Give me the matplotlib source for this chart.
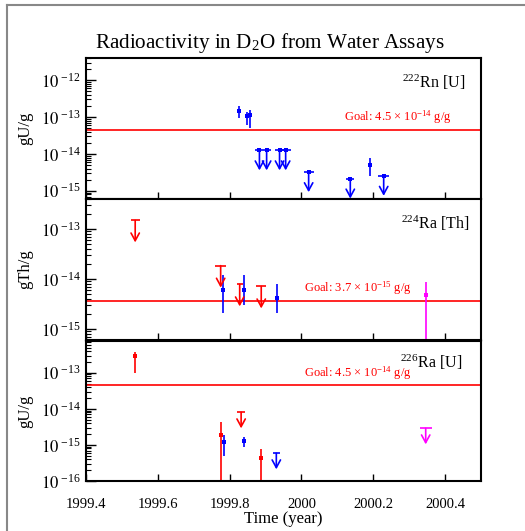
import matplotlib
matplotlib.use("Agg")
import matplotlib.pyplot as plt
import matplotlib.ticker as mticker
import matplotlib.transforms as mtransforms
from matplotlib.lines import Line2D
import numpy as np

plt.rcParams['font.family'] = ['Liberation Serif', 'DejaVu Serif']
plt.rcParams['mathtext.fontset'] = 'stix'

# x axis
xlim = (1999.4, 2000.5)
xticks = [1999.4, 1999.6, 1999.8, 2000.0, 2000.2, 2000.4]
xticklabels = ["1999.4", "1999.6", "1999.8", "2000", "2000.2", "2000.4"]

# 222Rn [U] panel
rn_meas_t = [1999.826, 1999.847, 1999.858, 2000.191]
rn_meas_v = [1.42e-13, 1.06e-13, 1.16e-13, 5.1e-15]
rn_meas_hi = [1.95e-13, 1.36e-13, 1.58e-13, 7.6e-15]
rn_meas_lo = [9.6e-14, 6.0e-14, 5.2e-14, 2.55e-15]
rn_lim_t = [1999.883, 1999.903, 1999.939, 1999.956, 2000.020, 2000.136, 2000.229]
rn_lim_v = [1.25e-14, 1.25e-14, 1.25e-14, 1.25e-14, 3.2e-15, 2.15e-15, 2.55e-15]
rn_lim_dt = [0.011, 0.011, 0.014, 0.014, 0.014, 0.011, 0.015]
rn_goal = 4.5e-14
rn_decades = [1e-15, 1e-14, 1e-13, 1e-12]

# 224Ra [Th] panel
ra4_red_lim_t = [1999.537, 1999.775, 1999.828, 1999.888]
ra4_red_lim_v = [1.49e-13, 1.85e-14, 7.8e-15, 7.1e-15]
ra4_red_lim_dt = [0.013, 0.015, 0.008, 0.014]
ra4_blue_t = [1999.782, 1999.840, 1999.932]
ra4_blue_v = [6.1e-15, 6.1e-15, 4.17e-15]
ra4_blue_hi = [1.18e-14, 1.2e-14, 7.9e-15]
ra4_blue_lo = [2.05e-15, 3.06e-15, 2.05e-15]
ra4_mag_t = [2000.346]
ra4_mag_v = [4.8e-15]
ra4_mag_hi = [8.7e-15]
ra4_mag_lo = [1e-16]
ra4_goal = 3.7e-15
ra4_decades = [1e-15, 1e-14, 1e-13]

# 226Ra [U] panel
ra6_red_t = [1999.537, 1999.777, 1999.888]
ra6_red_v = [2.96e-13, 1.88e-15, 4.4e-16]
ra6_red_hi = [3.74e-13, 4.2e-15, 7.85e-16]
ra6_red_lo = [1e-13, 1e-17, 1e-17]
ra6_blue_t = [1999.783, 1999.840]
ra6_blue_v = [1.18e-15, 1.3e-15]
ra6_blue_hi = [1.88e-15, 1.69e-15]
ra6_blue_lo = [5e-16, 8.9e-16]
ra6_red_lim_t = [1999.832]
ra6_red_lim_v = [8e-15]
ra6_red_lim_dt = [0.011]
ra6_blue_lim_t = [1999.930]
ra6_blue_lim_v = [5.85e-16]
ra6_blue_lim_dt = [0.009]
ra6_mag_lim_t = [2000.346]
ra6_mag_lim_v = [2.88e-15]
ra6_mag_lim_dt = [0.017]
ra6_goal = 4.5e-14
ra6_decades = [1e-16, 1e-15, 1e-14, 1e-13]

BLUE = "#0000ff"
RED = "#ff0000"
MAG = "#ff00ff"

W, H = 525, 531
fig = plt.figure(figsize=(W / 100, H / 100), dpi=100)

def px_box(top, bottom, left=86, right=481):
    return [left / W, 1 - bottom / H, (right - left) / W, (bottom - top) / H]

ax1 = fig.add_axes(px_box(58, 199))
ax2 = fig.add_axes(px_box(199, 340))
ax3 = fig.add_axes(px_box(341, 481))


def decade_label(v):
    e = int(round(np.log10(v)))
    return r"$10^{\ \mathregular{-%d}}$" % (-e)


def style_axis(ax, ylim, decades, label, show_x):
    ax.set_yscale("log")
    ax.set_xlim(*xlim)
    ax.set_ylim(*ylim)
    ax.set_xticks(xticks)
    if show_x:
        ax.set_xticklabels(xticklabels, fontsize=10.5)
    else:
        ax.tick_params(axis="x", labelbottom=False)
    ax.set_yticks(decades)
    ax.set_yticklabels([decade_label(d) for d in decades])
    ax.yaxis.set_minor_locator(mticker.LogLocator(base=10, subs=np.arange(2, 10), numticks=20))
    ax.yaxis.set_minor_formatter(mticker.NullFormatter())
    ax.tick_params(axis="x", which="both", direction="in", length=5, width=1,
                   top=False, pad=12)
    ax.tick_params(axis="y", which="major", direction="in", length=7, width=1,
                   right=False, labelsize=12, pad=4)
    ax.tick_params(axis="y", which="minor", direction="in", length=3.5, width=0.8,
                   right=False)
    for s in ax.spines.values():
        s.set_linewidth(1.5)
    ax.set_ylabel(label, fontsize=12)
    ax.yaxis.set_label_coords(-0.134, 0.5)


def meas(ax, t, v, hi, lo, color, ms=3):
    v = np.array(v)
    yerr = [v - np.array(lo), np.array(hi) - v]
    ax.errorbar(t, v, yerr=yerr, fmt="s", color=color, ms=ms, lw=1.2,
                capsize=0, mew=0)


def limits(ax, t, v, dt, color, arrow_px, marker=False):
    ax.errorbar(t, v, xerr=dt, fmt="s" if marker else "none", color=color,
                ms=3, lw=1.2, capsize=0, mew=0)
    off = mtransforms.ScaledTranslation(0, -arrow_px / 100, fig.dpi_scale_trans)
    for ti, vi in zip(t, v):
        ax.annotate("", xy=(ti, vi), xycoords=ax.transData + off,
                    xytext=(ti, vi), textcoords="data",
                    arrowprops=dict(arrowstyle="->,head_length=0.55,head_width=0.3",
                                    color=color, lw=1.2, shrinkA=0, shrinkB=0,
                                    mutation_scale=10))


def goal(ax, val, text, xfrac):
    ax.axhline(val, color=RED, lw=1.2)
    ax.annotate(text, xy=(xfrac, val), xycoords=("axes fraction", "data"),
                xytext=(0, 2), textcoords="offset points", color=RED,
                fontsize=9, ha="left", va="bottom")


# top panel
style_axis(ax1, (6e-16, 4e-12), rn_decades, "gU/g", False)
goal(ax1, rn_goal, "Goal: 4.5 \u00d7 10$^{\\mathregular{-14}}$ g/g", 0.653)
meas(ax1, rn_meas_t, rn_meas_v, rn_meas_hi, rn_meas_lo, BLUE)
limits(ax1, rn_lim_t, rn_lim_v, rn_lim_dt, BLUE, 20, marker=True)
ax1.text(0.96, 0.83, r"$^{\mathregular{222}}$Rn [U]", transform=ax1.transAxes,
         ha="right", va="center", fontsize=11.5)

# middle panel
style_axis(ax2, (6e-16, 4e-13), ra4_decades, "gTh/g", False)
goal(ax2, ra4_goal, "Goal: 3.7 \u00d7 10$^{\\mathregular{-15}}$ g/g", 0.552)
limits(ax2, ra4_red_lim_t, ra4_red_lim_v, ra4_red_lim_dt, RED, 22)
meas(ax2, ra4_blue_t, ra4_blue_v, ra4_blue_hi, ra4_blue_lo, BLUE)
meas(ax2, ra4_mag_t, ra4_mag_v, ra4_mag_hi, ra4_mag_lo, MAG, ms=2.5)
ax2.text(0.972, 0.83, r"$^{\mathregular{224}}$Ra [Th]", transform=ax2.transAxes,
         ha="right", va="center", fontsize=11.5)

# bottom panel
style_axis(ax3, (1e-16, 7.6e-13), ra6_decades, "gU/g", True)
goal(ax3, ra6_goal, "Goal: 4.5 \u00d7 10$^{\\mathregular{-14}}$ g/g", 0.552)
meas(ax3, ra6_red_t, ra6_red_v, ra6_red_hi, ra6_red_lo, RED, ms=2.5)
meas(ax3, ra6_blue_t, ra6_blue_v, ra6_blue_hi, ra6_blue_lo, BLUE)
limits(ax3, ra6_red_lim_t, ra6_red_lim_v, ra6_red_lim_dt, RED, 16)
limits(ax3, ra6_blue_lim_t, ra6_blue_lim_v, ra6_blue_lim_dt, BLUE, 16)
limits(ax3, ra6_mag_lim_t, ra6_mag_lim_v, ra6_mag_lim_dt, MAG, 16)
ax3.text(0.954, 0.85, r"$^{\mathregular{226}}$Ra [U]", transform=ax3.transAxes,
         ha="right", va="center", fontsize=11.5)
ax3.set_xlabel("Time (year)", fontsize=12)
ax3.xaxis.set_label_coords(0.5, -0.215)

fig.text(270 / W, 1 - 43 / H, r"Radioactivity in D$_{\mathregular{2}}$O from Water Assays",
         ha="center", va="center", fontsize=15.2)

# outer canvas frame
fig.add_artist(Line2D([7 / W, 524 / W], [1 - 5 / H, 1 - 5 / H], color="#888888",
                      lw=1.5, transform=fig.transFigure))
fig.add_artist(Line2D([7 / W, 7 / W], [1 - 5 / H, 0], color="#888888",
                      lw=1.5, transform=fig.transFigure))

fig.savefig("out.png", dpi=100)
